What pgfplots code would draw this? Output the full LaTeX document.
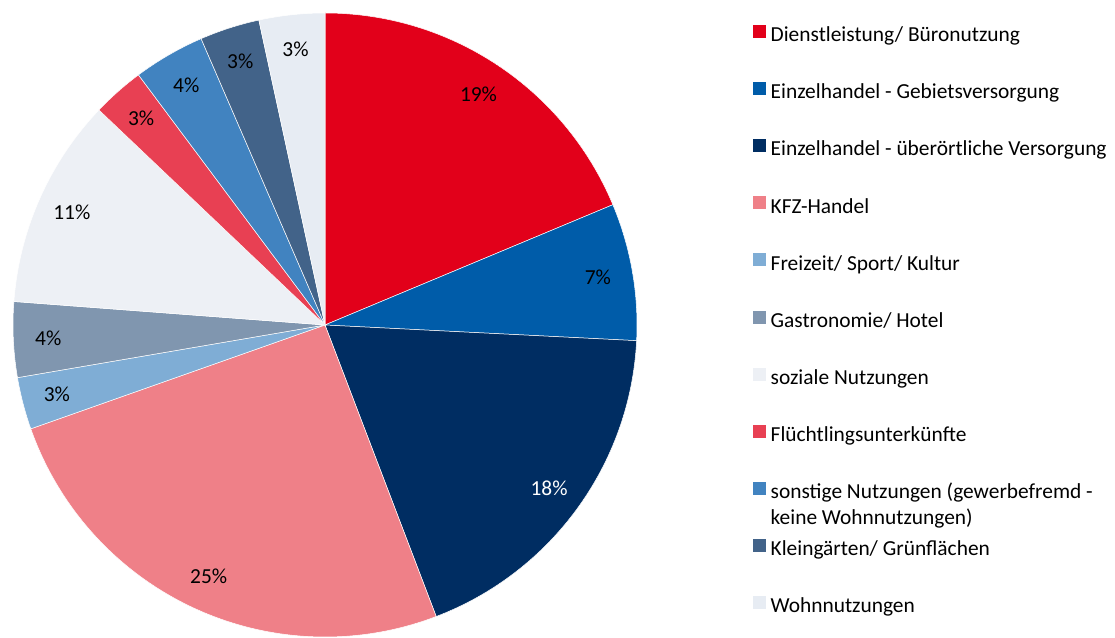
\documentclass[border=0pt]{standalone}
\usepackage{fontspec}
\setmainfont{Carlito}
\usepackage{pgfplots}
\pgfplotsset{compat=1.18}
\usepackage{pgfplotstable}

\definecolor{cA}{RGB}{226,0,26}
\definecolor{cB}{RGB}{0,92,169}
\definecolor{cC}{RGB}{0,45,98}
\definecolor{cD}{RGB}{239,128,136}
\definecolor{cE}{RGB}{127,173,213}
\definecolor{cF}{RGB}{128,150,175}
\definecolor{cG}{RGB}{237,240,245}
\definecolor{cH}{RGB}{232,64,83}
\definecolor{cI}{RGB}{65,131,192}
\definecolor{cJ}{RGB}{66,99,137}
\definecolor{cK}{RGB}{231,236,243}

% shares in percent, clockwise from 12 o'clock
\pgfplotstableread{
share colour labelcolour
18.7  cA black
7.1   cB black
18.4  cC white
25.4  cD black
2.7   cE black
3.9   cF black
10.9  cG black
2.7   cH black
3.7   cI black
3.1   cJ black
3.4   cK black
}\piedata

\begin{document}
\begin{tikzpicture}[font=\fontsize{21.4}{26}\selectfont]
\useasboundingbox (0,0) rectangle (1115pt,637pt);
\begin{axis}[
  at={(325pt,312pt)}, anchor=center,
  hide axis, scale only axis,
  width=624pt, height=624pt,
  xmin=-1, xmax=1, ymin=-1, ymax=1,
  legend style={at={(axis description cs:1.186,0.981)}, anchor=north west,
    draw=none, fill=none, inner sep=0pt, row sep=33.4pt,
    nodes={inner sep=2pt, text height=14pt, text depth=5pt},
    /tikz/every odd column/.style={column sep=3pt}},
  legend cell align=left,
  legend image code/.code={\fill[#1] (0pt,0pt) rectangle (12pt,12pt);},
]
\pgfmathsetmacro\startang{90}
\pgfplotsforeachungrouped \i in {0,...,10}{
  \pgfplotstablegetelem{\i}{share}\of\piedata \let\share\pgfplotsretval
  \pgfplotstablegetelem{\i}{colour}\of\piedata \let\col\pgfplotsretval
  \pgfplotstablegetelem{\i}{labelcolour}\of\piedata \let\lcol\pgfplotsretval
  \pgfmathsetmacro\endang{\startang-3.6*\share}
  \pgfmathsetmacro\midang{(\startang+\endang)/2}
  \pgfmathtruncatemacro\lab{round(\share)}
  \edef\slice{%
    \noexpand\fill[\col, draw=white, line width=0.5pt] (axis cs:0,0) -- ++(\startang:312pt)
      arc[start angle=\startang, end angle=\endang, radius=312pt] -- cycle;
    \noexpand\path (axis cs:0,0) ++(\midang:277pt) node[text=\lcol] {\lab\noexpand\%};}
  \slice
  \let\startang\endang
}
\addlegendimage{cA}\addlegendentry{Dienstleistung/ Büronutzung}
\addlegendimage{cB}\addlegendentry{Einzelhandel - Gebietsversorgung}
\addlegendimage{cC}\addlegendentry{Einzelhandel - überörtliche Versorgung}
\addlegendimage{cD}\addlegendentry{KFZ-Handel}
\addlegendimage{cE}\addlegendentry{Freizeit/ Sport/ Kultur}
\addlegendimage{cF}\addlegendentry{Gastronomie/ Hotel}
\addlegendimage{cG}\addlegendentry{soziale Nutzungen}
\addlegendimage{cH}\addlegendentry{Flüchtlingsunterkünfte}
\addlegendimage{cI}\addlegendentry{\smash{\begin{tabular}[t]{@{}l@{}}sonstige Nutzungen (gewerbefremd -\\keine Wohnnutzungen)\end{tabular}}}
\addlegendimage{cJ}\addlegendentry{Kleingärten/ Grünflächen}
\addlegendimage{cK}\addlegendentry{Wohnnutzungen}
\end{axis}
\end{tikzpicture}
\end{document}
